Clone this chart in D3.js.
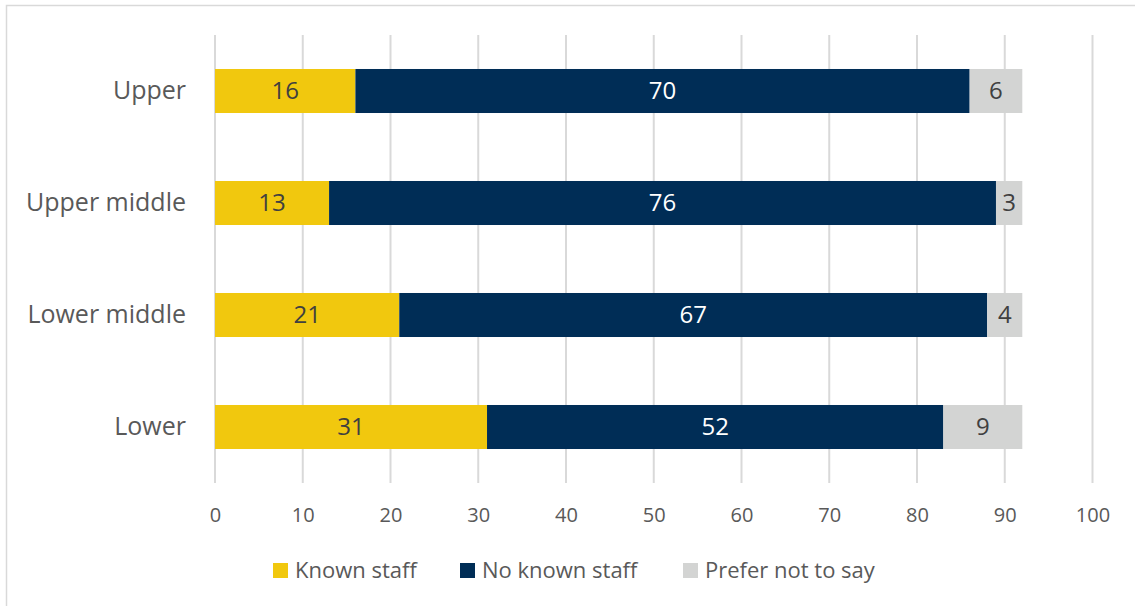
<!DOCTYPE html>
<html>
<head>
<meta charset="utf-8">
<script src="https://cdn.jsdelivr.net/npm/d3@7/dist/d3.min.js"></script>
<style>
  html, body { margin: 0; padding: 0; background: #fff; }
  svg { display: block; font-family: "Open Sans", "Noto Sans", sans-serif; }
</style>
</head>
<body>
<svg id="chart" width="1135" height="606"></svg>
<script>
// Income groups, top to bottom
const categories = ["Upper", "Upper middle", "Lower middle", "Lower"];
// Percentages per group
const knownStaff    = [16, 13, 21, 31];
const noKnownStaff  = [70, 76, 67, 52];
const preferNotSay  = [6, 3, 4, 9];
const seriesNames   = ["Known staff", "No known staff", "Prefer not to say"];
const seriesColors  = ["#F1C80E", "#002D56", "#D3D4D3"];
const labelColors   = ["#404040", "#FFFFFF", "#404040"];
const xTicks        = [0, 10, 20, 30, 40, 50, 60, 70, 80, 90, 100];

const svg = d3.select("#chart");

// Outer frame
svg.append("rect")
  .attr("x", 6.5).attr("y", 5.5)
  .attr("width", 1140).attr("height", 610)
  .attr("fill", "#fff").attr("stroke", "#D9D9D9").attr("stroke-width", 1.5);

const x = d3.scaleLinear().domain([0, 100]).range([215, 1092.5]);
const y = d3.scaleBand().domain(categories).range([35, 483]).paddingInner(0.607).paddingOuter(0.3035);

// Vertical gridlines
svg.append("g").selectAll("line").data(xTicks).join("line")
  .attr("x1", d => x(d)).attr("x2", d => x(d))
  .attr("y1", 35).attr("y2", 483)
  .attr("stroke", "#D9D9D9").attr("stroke-width", 2);

// X axis tick labels
const xAxis = d3.axisBottom(x).tickValues(xTicks).tickSize(0).tickPadding(0);
const gx = svg.append("g").attr("transform", "translate(0,515)").call(xAxis);
gx.select(".domain").remove();
gx.selectAll("text")
  .attr("dy", "0.35em").attr("y", 0)
  .attr("fill", "#595959")
  .style("font-size", "20px")
  .style("font-family", "'Open Sans', sans-serif");

// Category labels
const yAxis = d3.axisLeft(y).tickSize(0).tickPadding(0);
const gy = svg.append("g").attr("transform", "translate(186,0)").call(yAxis);
gy.select(".domain").remove();
gy.selectAll("text")
  .attr("fill", "#595959")
  .style("font-size", "25px")
  .style("font-family", "'Open Sans', sans-serif");

// Stack the series
const rows = categories.map((c, i) => ({
  cat: c,
  "Known staff": knownStaff[i],
  "No known staff": noKnownStaff[i],
  "Prefer not to say": preferNotSay[i]
}));
const stacked = d3.stack().keys(seriesNames)(rows);

const layers = svg.append("g").selectAll("g").data(stacked).join("g")
  .attr("fill", (d, i) => seriesColors[i]);

layers.selectAll("rect").data(d => d).join("rect")
  .attr("x", d => x(d[0]))
  .attr("width", d => x(d[1]) - x(d[0]))
  .attr("y", d => y(d.data.cat))
  .attr("height", y.bandwidth());

// Value labels centred in each segment
stacked.forEach((layer, li) => {
  svg.append("g").selectAll("text").data(layer).join("text")
    .attr("x", d => (x(d[0]) + x(d[1])) / 2)
    .attr("y", d => y(d.data.cat) + y.bandwidth() / 2)
    .attr("dy", "0.35em")
    .attr("text-anchor", "middle")
    .attr("fill", labelColors[li])
    .style("font-size", "24px")
    .text(d => d[1] - d[0]);
});

// Legend
const legendX = [273, 460, 683];
const legend = svg.append("g").selectAll("g").data(seriesNames).join("g")
  .attr("transform", (d, i) => `translate(${legendX[i]},563)`);
legend.append("rect")
  .attr("width", 15).attr("height", 15)
  .attr("fill", (d, i) => seriesColors[i]);
legend.append("text")
  .attr("x", 22).attr("y", 7.5).attr("dy", "0.35em")
  .attr("fill", "#595959")
  .style("font-size", "22px")
  .text(d => d);
</script>
</body>
</html>
